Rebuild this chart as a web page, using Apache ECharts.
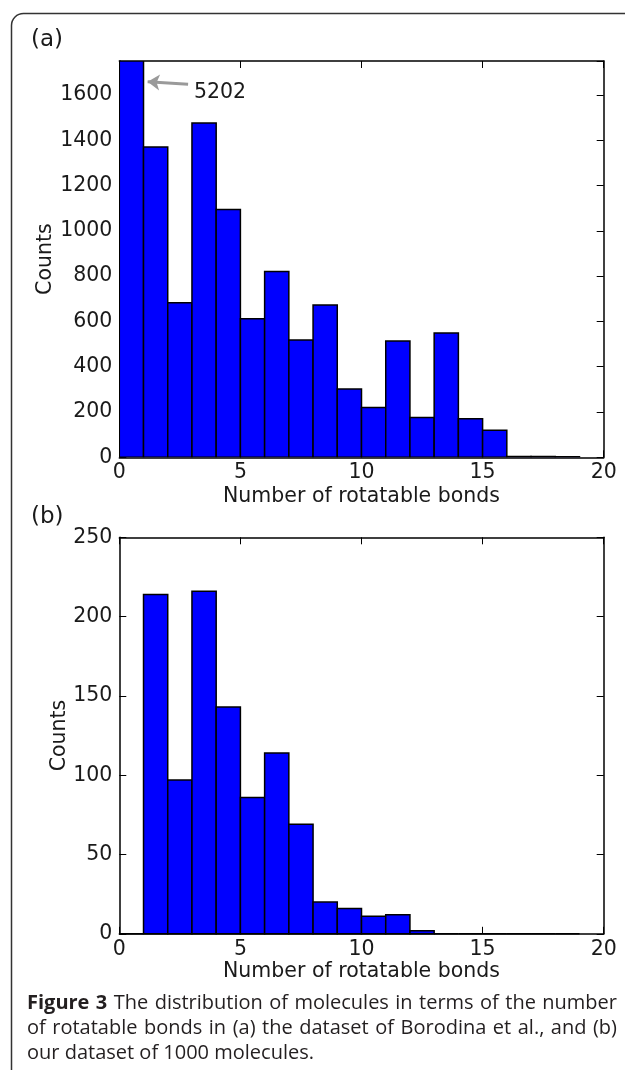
<!DOCTYPE html>
<html><head><meta charset="utf-8">
<script src="https://cdn.jsdelivr.net/npm/echarts@6/dist/echarts.min.js"></script>
<style>html,body{margin:0;padding:0;background:#fff}#c{width:625px;height:1070px}</style>
</head><body><div id="c"></div>
<script>
// ---- data ----
const binStarts = [0,1,2,3,4,5,6,7,8,9,10,11,12,13,14,15,16,17,18];
const countsA = [5202,1370,683,1476,1094,612,820,518,672,302,220,514,176,549,170,120,4,3,2];
const countsB = [0,214,97,216,143,86,114,69,20,16,11,12,2,0,0,0,0,0,0];
const xTickLabels = [0,5,10,15,20];
const yTickLabelsA = [0,200,400,600,800,1000,1200,1400,1600];
const yTickLabelsB = [0,50,100,150,200,250];
const yMaxA = 1750;
const annotationText = ['5202'];
const annotationArrow = [[2.84,1647],[1.17,1658]];
const annotationPos = [[3.08,1610]];
const panelLabels = ['(a)','(b)'];
const xName = 'Number of rotatable bonds';
const yName = 'Counts';
const captionBold = 'Figure 3';
const captionLines = [
  'The distribution of molecules in terms of the number',
  'of rotatable bonds in (a) the dataset of Borodina et al., and (b)',
  'our dataset of 1000 molecules.'
];

const FONT = 'DejaVu Sans';
const FS = 20.5;
const tickStep = (arr) => arr[1]-arr[0];

function toBins(counts){ return binStarts.map((s,i)=>[s, s+1, counts[i]]); }

function makeRender(yMax){
  return function(params, api){
    const x0 = api.value(0), x1 = api.value(1), v = Math.min(api.value(2), yMax);
    const p0 = api.coord([x0, v]);
    const p1 = api.coord([x1, 0]);
    return {type:'rect', shape:{x:p0[0], y:p0[1], width:p1[0]-p0[0], height:p1[1]-p0[1]},
      style:{fill:'#0000ff', stroke:'#000', lineWidth:1.5}};
  };
}

const gridA = {left:119.3, top:61, width:484.4, height:396.3};
const gridB = {left:119.3, top:537.3, width:484.4, height:396.5};

function xAx(gi, pos, shown, nameGap){
  return {type:'value', gridIndex:gi, position:pos, min:xTickLabels[0], max:xTickLabels[xTickLabels.length-1],
    interval:tickStep(xTickLabels),
    axisLine:{show:true, onZero:false, lineStyle:{color:'#000', width:1.5}},
    axisTick:{show:true, inside:true, length:7, lineStyle:{color:'#000', width:1}},
    splitLine:{show:false},
    axisLabel:{show:shown, fontFamily:FONT, fontSize:FS, color:'#1a1a1a', margin:5, formatter:(v)=>String(v)},
    name: shown ? xName : '', nameLocation:'middle', nameGap:nameGap, nameMoveOverlap:false,
    nameTextStyle:{fontFamily:FONT, fontSize:FS, color:'#1a1a1a'}};
}
function yAx(gi, pos, shown, ticks, max, nameGap){
  return {type:'value', gridIndex:gi, position:pos, min:ticks[0], max:max, interval:tickStep(ticks),
    axisLine:{show:true, onZero:false, lineStyle:{color:'#000', width:1.5}},
    axisTick:{show:true, inside:true, length:7, lineStyle:{color:'#000', width:1}},
    splitLine:{show:false},
    axisLabel:{show:shown, fontFamily:FONT, fontSize:FS, color:'#1a1a1a', margin:7,
      showMaxLabel: max===ticks[ticks.length-1], formatter:(v)=>String(v)},
    name: shown ? yName : '', nameLocation:'middle', nameGap:nameGap, nameMoveOverlap:false,
    nameTextStyle:{fontFamily:FONT, fontSize:FS, color:'#1a1a1a'}};
}

// caption layout: justified lines measured with canvas
const CAP_LEFT = 27, CAP_RIGHT = 617, CAP_FS = 20;
const capReg = CAP_FS + 'px "Open Sans"';
const capBold = 'bold ' + CAP_FS + 'px "Open Sans"';
const mctx = document.createElement('canvas').getContext('2d');
function measure(t, f){ mctx.font = f; return mctx.measureText(t).width; }
function captionGraphics(){
  const out = [];
  const ys = [1003, 1028, 1053];
  captionLines.forEach((line, li) => {
    const words = [];
    if (li === 0) captionBold.split(' ').forEach(w => words.push({t:w, f:capBold}));
    line.split(' ').forEach(w => words.push({t:w, f:capReg}));
    const widths = words.map(w => measure(w.t, w.f));
    const total = widths.reduce((a,b)=>a+b, 0);
    const justify = li < captionLines.length - 1;
    const gap = justify ? (CAP_RIGHT - CAP_LEFT - total) / (words.length - 1) : measure(' ', capReg);
    let x = CAP_LEFT;
    words.forEach((w, i) => {
      out.push({type:'text', x:x, y:ys[li], style:{text:w.t, font:w.f, fill:'#231f20', verticalAlign:'middle'}});
      x += widths[i] + gap;
    });
  });
  return out;
}

const chart = echarts.init(document.getElementById('c'), null, {renderer:'canvas'});
const option = {
  animation:false,
  backgroundColor:'#fff',
  grid:[gridA, gridB],
  xAxis:[xAx(0,'bottom',true,29), xAx(0,'top',false,0), xAx(1,'bottom',true,27), xAx(1,'top',false,0)],
  yAxis:[yAx(0,'left',true,yTickLabelsA,yMaxA,63), yAx(0,'right',false,yTickLabelsA,yMaxA,0),
         yAx(1,'left',true,yTickLabelsB,yTickLabelsB[yTickLabelsB.length-1],49), yAx(1,'right',false,yTickLabelsB,yTickLabelsB[yTickLabelsB.length-1],0)],
  series:[
    {type:'custom', xAxisIndex:0, yAxisIndex:0, data:toBins(countsA), renderItem:makeRender(yMaxA), clip:true, silent:true},
    {type:'custom', xAxisIndex:2, yAxisIndex:2, data:toBins(countsB), renderItem:makeRender(yTickLabelsB[yTickLabelsB.length-1]), silent:true},
    {type:'line', xAxisIndex:0, yAxisIndex:0, data:[], silent:true,
      markLine:{silent:true, symbol:['none','arrow'], symbolSize:12, label:{show:false},
        lineStyle:{color:'#9a9a9a', width:3, type:'solid', opacity:1},
        emphasis:{disabled:true},
        data:[[{coord:annotationArrow[0]},{coord:annotationArrow[1]}]]}},
    {type:'scatter', xAxisIndex:0, yAxisIndex:0, data:annotationPos, symbolSize:0, silent:true,
      itemStyle:{opacity:1},
      label:{show:true, position:'right', distance:0, formatter:(p)=>annotationText[p.dataIndex],
        fontFamily:FONT, fontSize:FS, color:'#1a1a1a', opacity:1}}
  ],
  graphic:[
    {type:'rect', z:0, shape:{x:11.5, y:13.5, width:800, height:1200, r:12}, style:{fill:'none', stroke:'#333', lineWidth:1.5}},
    {type:'text', x:31, y:40, style:{text:panelLabels[0], font:'23px "DejaVu Sans"', fill:'#1a1a1a', verticalAlign:'middle'}},
    {type:'text', x:31, y:517, style:{text:panelLabels[1], font:'23px "DejaVu Sans"', fill:'#1a1a1a', verticalAlign:'middle'}},
    {type:'rect', z:100, shape:{x:150, y:977, width:420, height:14}, style:{fill:'#fff'}}
  ].concat(captionGraphics())
};
chart.setOption(option);
</script></body></html>
